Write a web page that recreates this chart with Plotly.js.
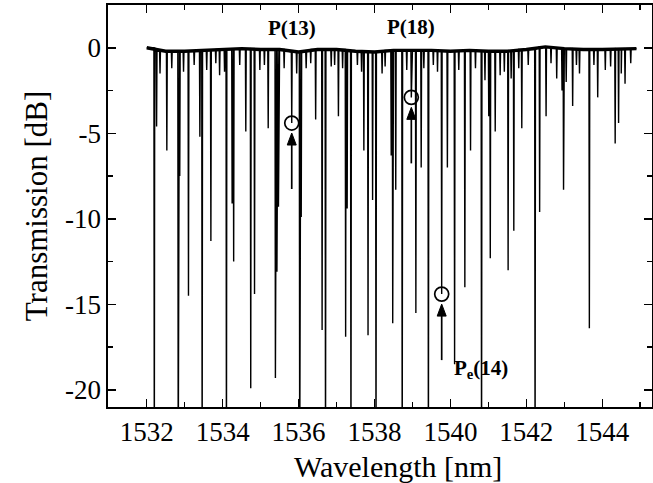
<!DOCTYPE html>
<html>
<head>
<meta charset="utf-8">
<script src="https://cdn.plot.ly/plotly-3.0.1.min.js"></script>
<style>html,body{margin:0;padding:0;background:#fff}#chart{width:653px;height:483px}</style>
</head>
<body>
<div id="chart"></div>
<script>
// Baseline level of the spectrum (nm, dB)
const baseNm = [1532.0, 1532.5, 1533.0, 1533.5, 1534.0, 1534.5, 1535.0, 1535.5, 1536.0, 1536.5, 1537.0, 1537.5, 1538.0, 1538.5, 1539.0, 1539.5, 1540.0, 1540.5, 1541.0, 1541.5, 1542.0, 1542.5, 1543.0, 1543.5, 1544.0, 1544.5, 1544.9];
const baseDb = [0.0, -0.2, -0.2, -0.15, -0.1, -0.05, -0.1, -0.1, -0.25, -0.1, -0.1, -0.2, -0.25, -0.15, -0.15, -0.15, -0.2, -0.15, -0.2, -0.2, -0.1, 0.05, -0.05, -0.1, -0.1, -0.05, -0.05];

// Absorption dips: centre wavelength (nm) and minimum transmission (dB); -25 = saturated (below the axis)
const lineNm = [1532.20, 1532.26, 1532.35, 1532.53, 1532.66, 1532.83, 1532.87, 1532.97, 1533.10, 1533.25,
  1533.40, 1533.46, 1533.58, 1533.69, 1533.82, 1533.92, 1534.05, 1534.10, 1534.25, 1534.29,
  1534.45, 1534.61, 1534.74, 1534.84, 1534.98, 1535.10, 1535.20, 1535.39, 1535.43, 1535.47,
  1535.62, 1535.82, 1535.95, 1536.03, 1536.07, 1536.20, 1536.32, 1536.45, 1536.62, 1536.71,
  1536.86, 1536.95, 1537.05, 1537.16, 1537.24, 1537.28, 1537.38, 1537.55, 1537.66, 1537.72,
  1537.83, 1537.95, 1538.04, 1538.20, 1538.28, 1538.44, 1538.48, 1538.56, 1538.73, 1538.85,
  1538.97, 1539.09, 1539.23, 1539.30, 1539.42, 1539.55, 1539.66, 1539.77, 1539.92, 1540.11,
  1540.22, 1540.38, 1540.53, 1540.66, 1540.82, 1540.91, 1541.01, 1541.05, 1541.18, 1541.31,
  1541.42, 1541.52, 1541.60, 1541.67, 1541.80, 1541.88, 1542.05, 1542.23, 1542.35, 1542.52,
  1542.65, 1542.80, 1542.94, 1542.98, 1543.05, 1543.22, 1543.32, 1543.40, 1543.66, 1543.78,
  1543.88, 1544.08, 1544.22, 1544.34, 1544.43, 1544.50, 1544.60, 1544.75];
const lineDb = [-25, -4.6, -1.5, -6.0, -1.2, -25, -7.5, -1.4, -14.5, -1.0,
  -5.2, -25, -1.3, -11.3, -0.9, -1.6, -1.4, -25, -9.1, -12.5,
  -1.0, -4.9, -19.9, -14.4, -1.3, -1.0, -4.7, -19.3, -13.1, -9.3,
  -1.2, -4.4, -1.5, -25, -9.9, -1.2, -0.9, -4.2, -16.5, -25,
  -1.1, -1.0, -4.0, -1.2, -16.9, -9.4, -25, -1.0, -1.4, -6.0,
  -16.8, -8.9, -25, -1.5, -1.1, -6.3, -16.1, -8.3, -25, -1.3,
  -2.9, -15.5, -7.0, -1.2, -25, -1.0, -1.4, -14.4, -7.0, -18.5,
  -1.3, -14.0, -6.0, -1.2, -25, -1.9, -4.0, -12.3, -4.9, -1.6,
  -1.4, -13.0, -1.8, -10.7, -1.2, -4.7, -1.0, -25, -9.6, -4.0,
  -0.9, -1.8, -2.5, -8.3, -2.0, -3.4, -1.0, -1.5, -16.4, -1.0,
  -2.9, -1.3, -1.1, -5.6, -4.4, -1.5, -2.1, -0.9];

// Marked lines
const markNm = [1535.82, 1538.97, 1539.77];
const markLabel = ['P(13)', 'P(18)', 'P<sub>e</sub>(14)'];

// Tick labels
const xTickVals = [1532, 1534, 1536, 1538, 1540, 1542, 1544];
const xTickText = ['1532', '1534', '1536', '1538', '1540', '1542', '1544'];
const yTickVals = [0, -5, -10, -15, -20];
const yTickText = ['0', '-5', '-10', '-15', '-20'];

function nearestBase(x) {
  let best = 0;
  for (let i = 1; i < baseNm.length; i++) if (Math.abs(baseNm[i] - x) < Math.abs(baseNm[best] - x)) best = i;
  return baseDb[best];
}
// Assemble the polyline: baseline readings + dips
const pts = [];
baseNm.forEach((x, i) => pts.push([x, baseDb[i]]));
const hw = 0.011;
lineNm.forEach((c, i) => {
  const b = nearestBase(c);
  pts.push([c - hw, b]); pts.push([c, lineDb[i]]); pts.push([c + hw, b]);
});
pts.sort((a, b) => a[0] - b[0]);
const X = pts.map(p => p[0]), Y = pts.map(p => p[1]);

const markDb = markNm.map(n => lineDb[lineNm.indexOf(n)]);

const serif = '"Times New Roman", "Liberation Serif", serif';
const traces = [
  {x: baseNm, y: baseDb, mode: 'lines', line: {color: '#000', width: 3.4}, hoverinfo: 'skip', showlegend: false},
  {x: X, y: Y, mode: 'lines', line: {color: '#000', width: 1.4}, showlegend: false},
  {x: markNm, y: markDb, mode: 'markers', marker: {symbol: 'circle-open', size: 14, color: '#000', line: {width: 1.7, color: '#000'}}, showlegend: false}
];

// Arrows below each marked line (shaft + filled head), anchored on the marked point
const shapes = [];
markNm.forEach((n, i) => {
  shapes.push({type: 'line', xref: 'x', yref: 'y', ysizemode: 'pixel', yanchor: markDb[i], x0: n, x1: n, y0: -18, y1: -66,
    line: {color: '#000', width: 1.7}});
  shapes.push({type: 'path', xref: 'x', yref: 'y', xsizemode: 'pixel', ysizemode: 'pixel', xanchor: n, yanchor: markDb[i],
    path: 'M0,-10 L-4.5,-22 L4.5,-22 Z', fillcolor: '#000', line: {color: '#000', width: 1}});
});

const annotations = [];
annotations.push({x: markNm[0], y: 1.15, xref: 'x', yref: 'y', text: '<b>' + markLabel[0] + '</b>', showarrow: false, font: {family: serif, size: 21, color: '#000'}});
annotations.push({x: markNm[1], y: 1.2, xref: 'x', yref: 'y', text: '<b>' + markLabel[1] + '</b>', showarrow: false, font: {family: serif, size: 21, color: '#000'}});
annotations.push({x: 1540.03, y: -18.8, xref: 'x', yref: 'y', xanchor: 'left', text: '<b>' + markLabel[2] + '</b>', showarrow: false, font: {family: serif, size: 21, color: '#000'}});
// x-axis title
annotations.push({x: 0.533, y: -0.147, xref: 'paper', yref: 'paper', xanchor: 'center', yanchor: 'middle', text: 'Wavelength [nm]', showarrow: false, font: {family: serif, size: 30, color: '#000'}});

const axisCommon = {
  showline: true, linecolor: '#000', linewidth: 1.6, mirror: 'ticks', ticks: 'inside', ticklen: 8, tickwidth: 1.5, tickcolor: '#000',
  showgrid: false, zeroline: false, tickfont: {family: serif, size: 27, color: '#000'}, tickmode: 'array'
};
const layout = {
  width: 653, height: 483,
  margin: {l: 108, r: 1, t: 5, b: 76},
  paper_bgcolor: '#fff', plot_bgcolor: '#fff',
  xaxis: Object.assign({}, axisCommon, {range: [1530.98, 1545.31], tickvals: xTickVals, ticktext: xTickText,
    minor: {dtick: 1, tick0: 1532, ticks: 'inside', ticklen: 5, tickwidth: 1.5, tickcolor: '#000'}}),
  yaxis: Object.assign({}, axisCommon, {range: [-21, 2.5], tickvals: yTickVals, ticktext: yTickText,
    minor: {dtick: 2.5, tick0: 0, ticks: 'inside', ticklen: 5, tickwidth: 1.5, tickcolor: '#000'},
    title: {text: 'Transmission [dB]', font: {family: serif, size: 31, color: '#000'}, standoff: 8}}),
  shapes: shapes,
  annotations: annotations,
  showlegend: false
};
Plotly.newPlot('chart', traces, layout, {staticPlot: true, displayModeBar: false});
</script>
</body>
</html>
